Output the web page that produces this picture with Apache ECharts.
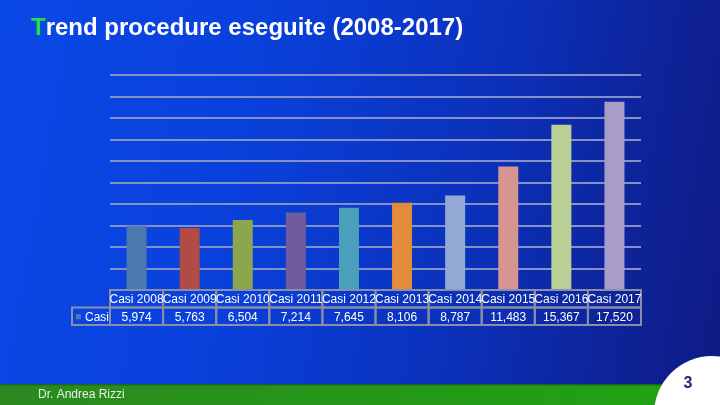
<!DOCTYPE html>
<html>
<head>
<meta charset="utf-8">
<script src="https://cdn.jsdelivr.net/npm/echarts@6/dist/echarts.min.js"></script>
<style>
  html, body { margin: 0; padding: 0; }
  #main {
    width: 720px; height: 405px; position: relative;
    background: linear-gradient(100deg, #0a48e6 0%, #0a40da 35%, #0b31ba 65%, #0e2194 88%, #0f1b84 100%);
  }
</style>
</head>
<body>
<div id="main"></div>
<script>
// values
var categories = ["Casi 2008", "Casi 2009", "Casi 2010", "Casi 2011", "Casi 2012",
                  "Casi 2013", "Casi 2014", "Casi 2015", "Casi 2016", "Casi 2017"];
var casi = [5974, 5763, 6504, 7214, 7645, 8106, 8787, 11483, 15367, 17520];
var barColors = ["#4b79ad", "#b04b46", "#8ba64c", "#705c9c", "#4a9fbb",
                 "#e38b3b", "#93a9d6", "#d69590", "#b9cf96", "#a89dc9"];
var seriesName = "Casi";
var yMax = 20000, yStep = 2000;

var myChart = echarts.init(document.getElementById("main"));
var font = "Liberation Sans, Arial, sans-serif";

var option = {
  backgroundColor: "transparent",
  animation: false,
  title: {
    text: "{g|T}rend procedure eseguite (2008-2017)",
    left: 26, top: 11,
    textStyle: {
      color: "#ffffff", fontSize: 24, fontWeight: "bold", fontFamily: font,
      rich: { g: { color: "#22e04a", fontSize: 24, fontWeight: "bold", fontFamily: font } }
    }
  },
  grid: { left: 110, right: 79, top: 75, bottom: 115, containLabel: false },
  xAxis: {
    type: "category",
    data: categories,
    axisLine: { show: false },
    axisTick: { show: false },
    axisLabel: { show: false }
  },
  yAxis: {
    type: "value",
    min: 0, max: yMax, interval: yStep,
    axisLine: { show: false },
    axisTick: { show: false },
    axisLabel: { show: false },
    splitLine: { lineStyle: { color: "#8591c6", width: 2 } }
  },
  series: [{
    name: seriesName,
    type: "bar",
    barWidth: 20,
    data: casi.map(function (v, i) {
      return { value: v, itemStyle: { color: barColors[i] } };
    })
  }]
};
myChart.setOption(option);

// data table under the plot, laid out from the axis scale
var gridTop = myChart.convertToPixel({ gridIndex: 0 }, [0, 0])[1];
var half = (myChart.convertToPixel({ xAxisIndex: 0 }, 1) - myChart.convertToPixel({ xAxisIndex: 0 }, 0)) / 2;
var rowH = 17.5;
var border = { stroke: "#8a8ea8", lineWidth: 2, fill: "transparent" };
var txt = { fill: "#ffffff", fontSize: 12, fontFamily: font, align: "center", verticalAlign: "middle" };
var graphics = [];

categories.forEach(function (c, i) {
  var cx = myChart.convertToPixel({ xAxisIndex: 0 }, i);
  graphics.push({ type: "rect", shape: { x: cx - half, y: gridTop, width: half * 2, height: rowH }, style: border, z: 10 });
  graphics.push({ type: "rect", shape: { x: cx - half, y: gridTop + rowH, width: half * 2, height: rowH }, style: border, z: 10 });
  graphics.push({ type: "text", x: cx, y: gridTop + rowH / 2 + 1, style: Object.assign({ text: c }, txt), z: 11 });
  graphics.push({ type: "text", x: cx, y: gridTop + rowH * 1.5 + 1,
    style: Object.assign({ text: casi[i].toLocaleString("en-US") }, txt), z: 11 });
});
var firstX = myChart.convertToPixel({ xAxisIndex: 0 }, 0) - half;
graphics.push({ type: "rect", shape: { x: 72, y: gridTop + rowH, width: firstX - 72, height: rowH }, style: border, z: 10 });
graphics.push({ type: "rect", shape: { x: 76, y: gridTop + rowH * 1.5 - 2, width: 5, height: 5 }, style: { fill: barColors[0] }, z: 11 });
graphics.push({ type: "text", x: 85, y: gridTop + rowH * 1.5 + 1,
  style: Object.assign({}, txt, { text: seriesName, align: "left" }), z: 11 });

// footer band, author and page number
graphics.push({ type: "rect", shape: { x: 0, y: 384, width: 720, height: 21 },
  style: { fill: new echarts.graphic.LinearGradient(0, 0, 1, 0, [
    { offset: 0, color: "#2b8920" }, { offset: 1, color: "#20a412" }]) }, z: 1 });
graphics.push({ type: "rect", shape: { x: 0, y: 384, width: 720, height: 1.5 }, style: { fill: "#1d6a1a" }, z: 1 });
graphics.push({ type: "text", x: 38, y: 395, style: { text: "Dr. Andrea Rizzi", fill: "#e8f0e8",
  fontSize: 12, fontFamily: font, verticalAlign: "middle" }, z: 2 });
graphics.push({ type: "circle", shape: { cx: 712, cy: 414, r: 58 }, style: { fill: "#ffffff" }, z: 3 });
graphics.push({ type: "text", x: 688, y: 384, style: { text: "3", fill: "#1b2a6e", fontSize: 16,
  fontWeight: "bold", fontFamily: font, align: "center", verticalAlign: "middle" }, z: 4 });

myChart.setOption({ graphic: graphics });
</script>
</body>
</html>
